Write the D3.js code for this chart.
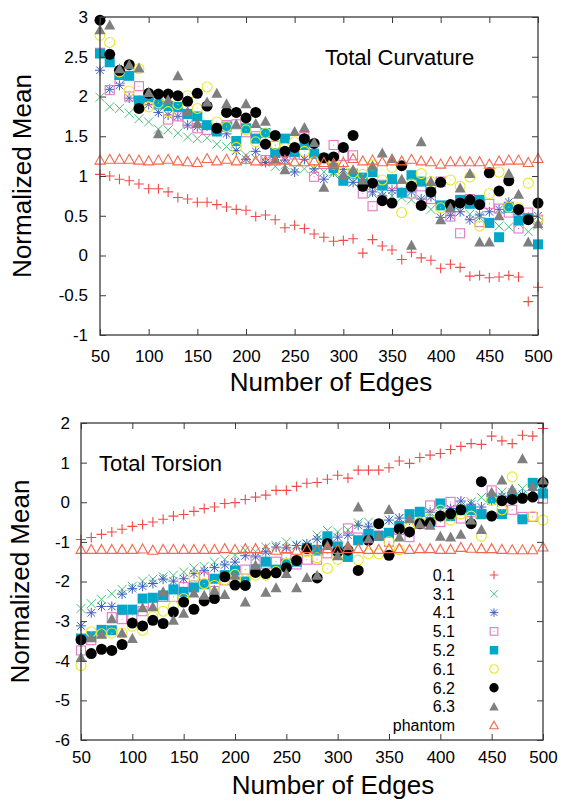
<!DOCTYPE html>
<html>
<head>
<meta charset="utf-8">
<script src="https://cdn.jsdelivr.net/npm/d3@7"></script>
<style>
  body { margin: 0; background: #fff; }
  text { font-family: "Liberation Sans", Arial, sans-serif; fill: #000; }
</style>
</head>
<body>
<svg id="chart" width="563" height="800"></svg>
<script>
// number of edges (x categories)
const edges = [50,60,70,80,90,100,110,120,130,140,150,160,170,180,190,200,210,220,230,240,250,260,270,280,290,300,310,320,330,340,350,360,370,380,390,400,410,420,430,440,450,460,470,480,490,500];
const xTicks = [50,100,150,200,250,300,350,400,450,500];

const seriesNames = ["0.1","3.1","4.1","5.1","5.2","6.1","6.2","6.3","phantom"];

// Total Curvature, normalized mean
const curv01 = [1.02,1.00,0.96,0.94,0.90,0.84,0.84,0.80,0.73,0.71,0.67,0.67,0.64,0.61,0.58,0.57,0.49,0.51,0.45,0.35,0.38,0.34,0.27,0.23,0.18,0.19,0.21,0.03,0.20,0.12,0.07,-0.05,0.04,-0.03,-0.06,-0.16,-0.11,-0.15,-0.26,-0.25,-0.28,-0.27,-0.25,-0.27,-0.58,-0.40];
const curv31 = [1.99,1.87,1.85,1.79,1.72,1.68,1.59,1.58,1.54,1.49,1.47,1.48,1.40,1.37,1.32,1.26,1.22,1.19,1.12,1.14,1.10,1.09,1.05,1.05,1.03,0.98,0.92,0.86,0.78,0.80,0.75,0.73,0.70,0.68,0.58,0.62,0.55,0.55,0.52,0.48,0.42,0.37,0.36,0.40,0.30,0.38];
const curv41 = [2.33,2.09,2.14,1.98,1.95,1.90,1.80,1.77,1.75,1.64,1.62,1.63,1.56,1.53,1.32,1.21,1.31,1.17,1.25,1.20,1.05,1.21,1.09,0.96,1.05,1.08,0.92,0.88,0.80,0.75,0.82,0.78,0.80,0.71,0.74,0.48,0.50,0.55,0.45,0.51,0.55,0.58,0.67,0.52,0.45,0.50];
const curv51 = [2.55,2.08,2.22,2.00,2.13,1.95,1.90,1.71,1.75,1.67,1.60,1.58,1.60,1.64,1.65,1.55,1.50,1.20,1.38,1.30,1.27,1.49,0.99,1.15,1.39,1.25,1.26,0.78,0.62,0.89,0.90,0.85,0.78,0.87,0.71,0.93,0.49,0.28,0.71,0.42,0.65,0.59,0.54,0.34,0.54,0.45];
const curv52 = [2.54,2.43,2.27,2.26,1.95,1.99,1.91,1.88,1.87,1.78,1.75,1.64,1.56,1.62,1.44,1.60,1.47,1.54,1.29,1.47,1.30,1.39,1.28,1.22,1.10,0.94,1.03,0.98,1.05,0.88,0.96,0.79,1.01,0.93,0.80,0.63,0.63,0.70,0.65,0.70,0.41,0.23,0.60,0.44,0.47,0.14];
const curv61 = [2.77,2.68,2.31,2.07,2.35,1.87,1.92,1.81,1.90,2.01,1.85,2.12,1.68,1.62,1.36,1.58,1.43,1.54,1.40,1.35,1.43,1.31,1.18,1.22,1.15,1.05,1.04,1.02,1.14,0.95,1.11,0.54,0.90,1.03,0.93,0.60,0.95,0.87,0.99,0.37,0.78,1.05,0.61,0.60,0.91,0.45];
const curv62 = [2.96,2.53,2.33,2.40,1.85,2.04,2.03,2.03,2.01,1.94,2.04,1.88,1.60,1.80,1.80,1.73,1.80,1.40,1.51,1.31,1.36,1.47,1.41,1.23,1.24,1.36,1.51,0.87,0.91,0.69,0.66,1.13,0.87,0.63,0.80,0.92,0.64,0.66,0.70,0.64,1.04,0.81,0.94,0.58,0.45,0.66];
const curv63 = [2.84,2.90,2.35,2.40,2.36,2.05,1.53,1.96,2.26,1.81,1.66,1.93,2.04,1.91,1.65,1.91,1.66,1.69,1.21,1.08,1.56,1.61,1.42,0.86,1.14,1.02,1.08,0.95,1.13,1.29,1.22,0.96,0.13,1.43,0.93,0.45,0.60,0.85,1.03,0.17,0.17,0.50,1.03,0.77,0.17,0.40];
const curvPh = [1.20,1.21,1.21,1.21,1.20,1.19,1.20,1.21,1.19,1.18,1.17,1.22,1.19,1.21,1.19,1.21,1.19,1.19,1.19,1.20,1.18,1.18,1.19,1.17,1.16,1.17,1.22,1.19,1.20,1.18,1.19,1.19,1.21,1.19,1.18,1.15,1.18,1.18,1.18,1.18,1.15,1.19,1.20,1.20,1.17,1.22];

// Total Torsion, normalized mean
const tors01 = [-0.94,-0.89,-0.81,-0.75,-0.68,-0.61,-0.56,-0.50,-0.43,-0.35,-0.31,-0.23,-0.16,-0.12,-0.03,-0.01,0.07,0.13,0.18,0.30,0.30,0.40,0.48,0.50,0.58,0.68,0.61,0.81,0.81,0.81,0.87,1.04,0.98,1.13,1.19,1.23,1.33,1.41,1.48,1.46,1.67,1.55,1.48,1.69,1.67,1.86];
const tors31 = [-2.68,-2.56,-2.45,-2.31,-2.20,-2.12,-1.99,-1.94,-1.88,-1.84,-1.76,-1.66,-1.62,-1.51,-1.44,-1.34,-1.21,-1.25,-1.13,-1.09,-1.00,-1.08,-1.04,-0.83,-0.71,-0.75,-0.70,-0.52,-0.50,-0.55,-0.45,-0.41,-0.35,-0.45,-0.29,-0.22,-0.20,-0.10,0.01,0.12,0.05,0.26,0.20,0.35,0.30,0.30];
const tors41 = [-3.12,-2.79,-2.63,-2.63,-2.32,-2.18,-2.12,-2.05,-1.94,-1.99,-1.93,-1.80,-1.73,-1.65,-1.58,-1.51,-1.35,-1.38,-1.25,-1.13,-1.15,-1.09,-1.05,-0.93,-0.90,-0.88,-0.83,-0.58,-0.62,-0.55,-0.45,-0.40,-0.45,-0.35,-0.25,-0.30,-0.16,0.03,-0.05,-0.12,0.03,0.15,0.25,0.20,0.30,0.28];
const tors51 = [-3.74,-3.48,-3.30,-2.90,-2.95,-2.85,-2.75,-2.60,-2.39,-2.39,-2.14,-2.10,-1.88,-2.24,-1.97,-1.80,-1.70,-1.46,-1.55,-1.50,-1.40,-1.57,-1.45,-1.45,-1.29,-1.10,-0.66,-0.89,-0.80,-0.84,-1.00,-0.70,-0.88,-0.55,-0.08,-0.50,0.01,-0.41,-0.25,-0.30,0.30,-0.18,-0.19,-0.37,-0.37,0.09];
const tors52 = [-3.44,-3.38,-3.22,-3.23,-2.71,-2.71,-2.43,-2.41,-2.35,-2.20,-2.26,-2.15,-2.07,-1.93,-1.84,-1.72,-2.00,-1.70,-1.50,-1.70,-1.55,-1.50,-1.15,-1.20,-0.86,-1.13,-1.38,-0.96,-0.80,-0.85,-0.77,-0.60,-0.30,-0.24,-0.50,-0.03,-0.35,-0.20,-0.20,-0.30,0.10,-0.30,0.10,-0.43,0.49,0.22];
const tors61 = [-4.12,-3.27,-3.32,-3.30,-3.30,-3.13,-3.23,-2.89,-2.75,-2.62,-2.43,-1.88,-2.05,-2.10,-1.95,-1.82,-1.95,-1.84,-1.84,-1.75,-1.55,-1.45,-1.25,-1.40,-1.67,-1.44,-1.20,-1.46,-1.30,-1.30,-1.00,-1.20,-0.66,-0.50,-0.40,-0.20,-0.45,-0.30,-0.35,-0.86,0.05,-0.19,0.64,0.10,-0.35,-0.45];
const tors62 = [-3.47,-3.82,-3.71,-3.74,-3.59,-3.05,-3.12,-2.98,-3.06,-2.77,-2.52,-2.70,-2.49,-2.43,-1.88,-2.09,-2.10,-1.77,-1.80,-1.78,-1.65,-1.47,-1.17,-1.91,-1.04,-1.25,-1.21,-1.72,-0.96,-0.54,-1.34,-0.67,-0.75,-0.54,-0.52,-0.35,-0.29,-0.19,-0.54,0.52,-0.35,0.04,0.07,0.10,0.13,0.50];
const tors63 = [-3.92,-3.42,-3.33,-2.94,-3.30,-3.44,-2.66,-2.64,-2.26,-2.98,-2.80,-2.29,-2.35,-2.22,-2.33,-1.84,-2.52,-1.59,-2.27,-2.16,-1.80,-2.16,-1.90,-1.84,-1.09,-1.35,-1.09,-0.12,-0.92,-0.85,-0.18,-0.88,-0.41,-0.55,-0.58,-0.86,-0.88,-0.81,-0.45,-0.69,0.25,0.56,0.33,1.10,0.40,0.56];
const torsPh = [-1.19,-1.19,-1.19,-1.19,-1.19,-1.19,-1.18,-1.21,-1.19,-1.19,-1.19,-1.19,-1.19,-1.19,-1.17,-1.19,-1.17,-1.17,-1.19,-1.21,-1.17,-1.21,-1.17,-1.19,-1.17,-1.19,-1.17,-1.17,-1.19,-1.19,-1.17,-1.17,-1.19,-1.17,-1.17,-1.19,-1.19,-1.14,-1.16,-1.17,-1.17,-1.19,-1.20,-1.20,-1.20,-1.13];

const curvSeries = [curv01, curv31, curv41, curv51, curv52, curv61, curv62, curv63, curvPh];
const torsSeries = [tors01, tors31, tors41, tors51, tors52, tors61, tors62, tors63, torsPh];

// point style for each series (same order as seriesNames)
const styles = [
  {shape: "plus",     color: "#f2494b"},
  {shape: "cross",    color: "#4cc27c"},
  {shape: "star",     color: "#3f5fbf"},
  {shape: "square",   color: "#e27ac3"},
  {shape: "squareF",  color: "#00a9c9"},
  {shape: "circle",   color: "#e8e82a"},
  {shape: "circleF",  color: "#000000"},
  {shape: "triF",     color: "#7f7f7f"},
  {shape: "tri",      color: "#f2684e"}
];

const svg = d3.select("#chart");

// draws one marker of the given style into selection g (already translated)
function drawMarker(g, st, k = 1) {
  const c = st.color;
  switch (st.shape) {
    case "plus":
      g.append("path").attr("d", `M${-5*k},0H${5*k}M0,${-5*k}V${5*k}`).attr("stroke", c).attr("stroke-width", 1.1).attr("fill", "none");
      break;
    case "cross":
      g.append("path").attr("d", `M${-4.5*k},${-4.5*k}L${4.5*k},${4.5*k}M${-4.5*k},${4.5*k}L${4.5*k},${-4.5*k}`).attr("stroke", c).attr("stroke-width", 1).attr("fill", "none");
      break;
    case "star":
      g.append("path").attr("d", `M${-5*k},0H${5*k}M0,${-5*k}V${5*k}M${-3.8*k},${-3.8*k}L${3.8*k},${3.8*k}M${-3.8*k},${3.8*k}L${3.8*k},${-3.8*k}`).attr("stroke", c).attr("stroke-width", 1).attr("fill", "none");
      break;
    case "square":
      g.append("rect").attr("x", -4.5*k).attr("y", -4.5*k).attr("width", 9*k).attr("height", 9*k).attr("stroke", c).attr("stroke-width", 1.1).attr("fill", "none");
      g.append("rect").attr("x", -0.5).attr("y", -0.5).attr("width", 1).attr("height", 1).attr("fill", c);
      break;
    case "squareF":
      g.append("rect").attr("x", -5*k).attr("y", -5*k).attr("width", 10*k).attr("height", 10*k).attr("fill", c);
      break;
    case "circle":
      g.append("circle").attr("r", 5*k).attr("stroke", c).attr("stroke-width", 1.1).attr("fill", "none");
      g.append("rect").attr("x", -0.5).attr("y", -0.5).attr("width", 1).attr("height", 1).attr("fill", c);
      break;
    case "circleF":
      g.append("circle").attr("r", 5.5*k).attr("fill", c);
      break;
    case "triF":
      g.append("path").attr("d", `M0,${-5.5*k}L${5.5*k},${4.5*k}L${-5.5*k},${4.5*k}Z`).attr("fill", c);
      break;
    case "tri":
      g.append("path").attr("d", `M0,${-5*k}L${5*k},${4*k}L${-5*k},${4*k}Z`).attr("stroke", c).attr("stroke-width", 1.1).attr("fill", "none");
      break;
  }
}

function drawPanel(p) {
  const x = d3.scaleLinear().domain([50, 500]).range([p.left, p.right]);
  const y = d3.scaleLinear().domain(p.yDomain).range([p.bottom, p.top]);
  const panel = svg.append("g");

  // points, drawn in legend order
  p.series.forEach((vals, i) => {
    const layer = panel.append("g").attr("class", "series s" + i);
    layer.selectAll(".pt")
      .data(edges.map((e, j) => ({e: e, v: vals[j]})))
      .enter()
      .append("g")
      .attr("class", "pt")
      .attr("transform", d => `translate(${x(d.e)},${y(d.v)})`)
      .each(function () { drawMarker(d3.select(this), styles[i]); });
  });

  const fmt = d => String(d);
  const axisColor = "#3a3a3a";

  const bottomAxis = panel.append("g").attr("transform", `translate(0,${p.bottom})`)
    .call(d3.axisBottom(x).tickValues(xTicks).tickSizeInner(-6).tickSizeOuter(0).tickPadding(p.xPad).tickFormat(fmt));
  panel.append("g").attr("transform", `translate(0,${p.top})`)
    .call(d3.axisTop(x).tickValues(xTicks).tickSizeInner(-6).tickSizeOuter(0).tickFormat(""));
  const leftAxis = panel.append("g").attr("transform", `translate(${p.left},0)`)
    .call(d3.axisLeft(y).tickValues(p.yTicks).tickSizeInner(-6).tickSizeOuter(0).tickPadding(p.yPad).tickFormat(fmt));
  panel.append("g").attr("transform", `translate(${p.right},0)`)
    .call(d3.axisRight(y).tickValues(p.yTicks).tickSizeInner(-6).tickSizeOuter(0).tickFormat(""));

  panel.selectAll(".domain").remove();
  panel.selectAll(".tick line").attr("stroke", axisColor).attr("stroke-width", 1);
  [bottomAxis, leftAxis].forEach(a => a.selectAll("text").style("font-size", "17px").attr("fill", "#000"));

  panel.append("rect")
    .attr("x", p.left).attr("y", p.top)
    .attr("width", p.right - p.left).attr("height", p.bottom - p.top)
    .attr("fill", "none").attr("stroke", axisColor).attr("stroke-width", 1.3);

  panel.append("text")
    .attr("x", p.xTitleX).attr("y", p.xTitleY)
    .attr("text-anchor", "middle")
    .style("font-size", "26px")
    .text("Number of Edges");

  panel.append("text")
    .attr("transform", `translate(${p.yTitleX},${(p.top + p.bottom) / 2}) rotate(-90)`)
    .attr("text-anchor", "middle")
    .attr("dy", "0.35em")
    .style("font-size", "26px")
    .text("Normalized Mean");

  panel.append("text")
    .attr("x", p.titleX).attr("y", p.titleY)
    .style("font-size", "22px")
    .text(p.title);

  return {x, y, panel};
}

drawPanel({
  left: 100, right: 538, top: 17, bottom: 335,
  yDomain: [-1, 3], yTicks: [-1,-0.5,0,0.5,1,1.5,2,2.5,3],
  series: curvSeries, xPad: 15, yPad: 12,
  xTitleX: 331, xTitleY: 391, yTitleX: 22,
  title: "Total Curvature", titleX: 325, titleY: 65
});

const bottom = drawPanel({
  left: 81, right: 543, top: 423, bottom: 740,
  yDomain: [-6, 2], yTicks: [-6,-5,-4,-3,-2,-1,0,1,2],
  series: torsSeries, xPad: 11, yPad: 11,
  xTitleX: 333, xTitleY: 794, yTitleX: 20,
  title: "Total Torsion", titleX: 99, titleY: 471
});

// legend (inside the torsion panel, lower right)
const legend = bottom.panel.append("g").attr("class", "legend");
seriesNames.forEach((name, i) => {
  const cy = 575 + i * 18.8;
  legend.append("text")
    .attr("x", 455).attr("y", cy)
    .attr("dy", "0.36em")
    .attr("text-anchor", "end")
    .style("font-size", "16px")
    .text(name);
  const m = legend.append("g").attr("transform", `translate(494,${cy})`);
  drawMarker(m, styles[i], 0.85);
});
</script>
</body>
</html>
